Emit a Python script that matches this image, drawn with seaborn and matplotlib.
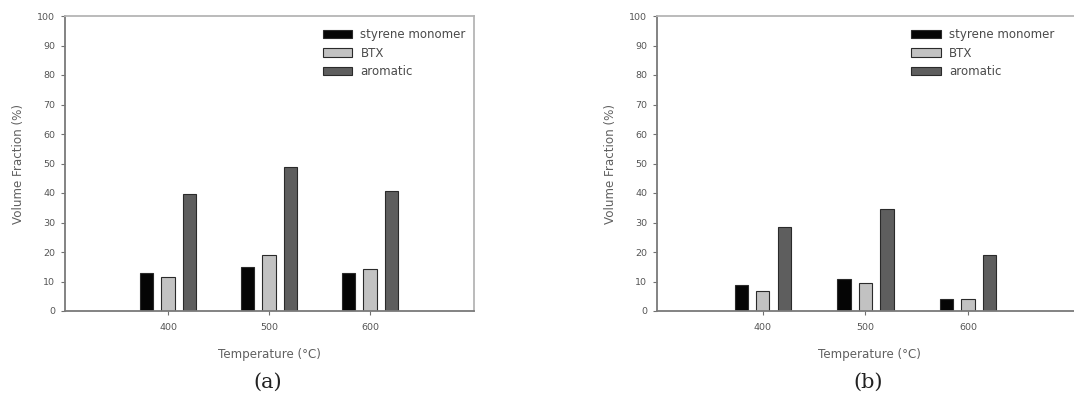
import matplotlib
matplotlib.use("Agg")
import matplotlib.pyplot as plt
import seaborn as sns
import pandas as pd

# Pyrolysis product fractions by temperature
temperatures = ["400", "500", "600"]
components = ["styrene monomer", "BTX", "aromatic"]
panel_a = {
    "styrene monomer": [12.8, 15.0, 13.0],
    "BTX": [11.6, 19.0, 14.4],
    "aromatic": [39.5, 48.9, 40.8],
}
panel_b = {
    "styrene monomer": [8.7, 10.7, 4.2],
    "BTX": [6.8, 9.4, 4.0],
    "aromatic": [28.6, 34.7, 19.1],
}
captions = ["(a)", "(b)"]
y_ticks = list(range(0, 101, 10))

bar_colors = {"styrene monomer": "#050505", "BTX": "#c2c2c2", "aromatic": "#5e5e5e"}

sns.set_theme(style="white")
plt.rcParams["font.family"] = ["DejaVu Sans"]

W, H = 1074, 396
fig = plt.figure(figsize=(W / 100, H / 100), dpi=100)

# axes boxes in pixels: left, right, top, bottom
boxes = [(65, 474, 16, 311), (657, 1081, 16, 311)]
xlims = [(-1.02, 3.03), (-1.03, 3.1)]
legend_x = [0.63, 0.60]
caption_x = [268, 868]


def to_long(data):
    rows = []
    for comp in components:
        for t, v in zip(temperatures, data[comp]):
            rows.append({"Temperature": t, "Component": comp, "Fraction": v})
    return pd.DataFrame(rows)


for i, data in enumerate([panel_a, panel_b]):
    l, r, t, b = boxes[i]
    ax = fig.add_axes([l / W, 1 - b / H, (r - l) / W, (b - t) / H])
    df = to_long(data)
    sns.barplot(
        data=df, x="Temperature", y="Fraction", hue="Component",
        order=temperatures, hue_order=components, palette=bar_colors,
        width=0.63, gap=0.38, dodge=True, edgecolor="#2a2a2a", linewidth=0.8,
        saturation=1, ax=ax, errorbar=None,
    )
    ax.set_xlim(*xlims[i])
    ax.set_ylim(0, 100)
    ax.set_yticks(y_ticks)
    ax.set_yticklabels([str(v) for v in y_ticks])
    ax.tick_params(axis="both", which="major", labelsize=6.8, labelcolor="#555555",
                   color="#707070", length=3, width=0.8, direction="out",
                   left=True, bottom=True, pad=4)
    ax.tick_params(axis="x", pad=6)
    ax.set_xlabel("Temperature (°C)", fontsize=8.6, color="#606060", labelpad=11)
    ax.set_ylabel("Volume Fraction (%)", fontsize=8.6, color="#606060", labelpad=9)
    for side in ["left", "bottom"]:
        ax.spines[side].set_color("#7a7a7a")
        ax.spines[side].set_linewidth(1.3)
    for side in ["top", "right"]:
        ax.spines[side].set_color("#b5b5b5")
        ax.spines[side].set_linewidth(1.3)
    ax.grid(False)

    handles, labels = ax.get_legend_handles_labels()
    ax.legend(handles, labels, loc="upper left", bbox_to_anchor=(legend_x[i], 0.958),
              frameon=False, fontsize=8.5, labelcolor="#4a4a4a",
              handlelength=2.5, handleheight=0.7, handletextpad=0.7,
              labelspacing=0.45, borderaxespad=0, borderpad=0)

    fig.text(caption_x[i] / W, 1 - 382 / H, captions[i], ha="center", va="center",
             fontsize=15, family="DejaVu Serif", color="#222222")

fig.savefig("out.png", dpi=100)
